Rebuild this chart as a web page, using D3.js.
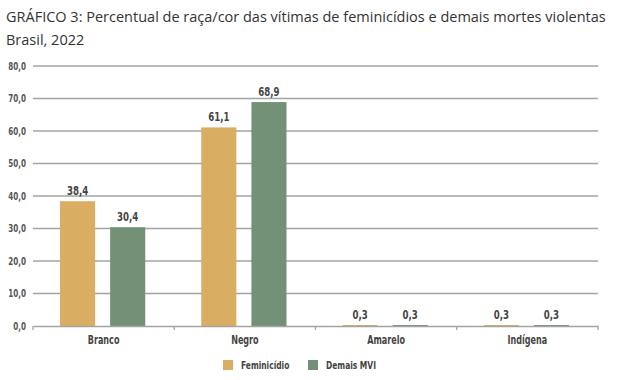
<!DOCTYPE html>
<html>
<head>
<meta charset="utf-8">
<script src="https://cdn.jsdelivr.net/npm/d3@7"></script>
<style>
  body { margin: 0; background: #fff; }
  .cond { font-family: "Liberation Sans Narrow", "DejaVu Sans Condensed", sans-serif; }
</style>
</head>
<body>
<div id="chart"></div>
<script>
// Data
var categories = ["Branco", "Negro", "Amarelo", "Indígena"];
var series = ["Feminicídio", "Demais MVI"];
var feminicidio = [38.4, 61.1, 0.3, 0.3];
var demaisMVI = [30.4, 68.9, 0.3, 0.3];
var yTicks = [0, 10, 20, 30, 40, 50, 60, 70, 80];
var colors = ["#d9ae62", "#729177"];

// squeeze text horizontally to look like a condensed face
function squeeze(sel, sx) {
    sel.attr("transform", function () {
        var t = d3.select(this);
        var xx = +t.attr("x") || 0, yy = +t.attr("y") || 0;
        t.attr("x", 0).attr("y", 0);
        return "translate(" + xx + "," + yy + ") scale(" + sx + ",1)";
    });
}

function init() {
    var w = 620, h = 380;
    var svg = d3.select("#chart").append("svg")
        .attr("width", w)
        .attr("height", h);

    // title
    svg.append("text")
        .attr("x", 6).attr("y", 22)
        .style("font-family", "'Open Sans', sans-serif")
        .style("font-size", "14.5px")
        .attr("fill", "#333")
        .text("GRÁFICO 3: Percentual de raça/cor das vítimas de feminicídios e demais mortes violentas");
    svg.append("text")
        .attr("x", 6).attr("y", 45)
        .style("font-family", "'Open Sans', sans-serif")
        .style("font-size", "14.5px")
        .attr("fill", "#333")
        .text("Brasil, 2022");

    var left = 33, right = 598, top = 66, bottom = 326;
    var fmt = function (v) { return d3.format(".1f")(v).replace(".", ","); };

    var x = d3.scaleBand().domain(categories).range([left, right]);
    var x1 = d3.scaleBand().domain(series).range([27, x.bandwidth() - 29]).paddingInner(0.3);
    var y = d3.scaleLinear().domain([0, 80]).range([bottom, top]);

    // gridlines
    svg.append("g").selectAll("line")
        .data(yTicks.slice(1))
        .enter().append("line")
        .attr("x1", left).attr("x2", right)
        .attr("y1", function (d) { return y(d); })
        .attr("y2", function (d) { return y(d); })
        .attr("stroke", "#a3a3a3")
        .attr("stroke-width", 1.3);

    // y tick labels
    svg.append("g").selectAll("text")
        .data(yTicks)
        .enter().append("text")
        .attr("class", "cond")
        .attr("x", 26)
        .attr("y", function (d) { return y(d) + 3.5; })
        .attr("text-anchor", "end")
        .style("font-size", "10px")
        .style("font-weight", "bold")
        .attr("fill", "#555")
        .text(fmt)
        .call(squeeze, 0.8);

    var data = categories.map(function (c, i) {
        return { cat: c, vals: [feminicidio[i], demaisMVI[i]] };
    });

    var groups = svg.append("g").selectAll("g")
        .data(data)
        .enter().append("g")
        .attr("transform", function (d) { return "translate(" + x(d.cat) + ",0)"; });

    groups.selectAll("rect")
        .data(function (d) { return d.vals.map(function (v, j) { return { s: series[j], v: v, j: j }; }); })
        .enter().append("rect")
        .attr("x", function (d) { return x1(d.s); })
        .attr("width", x1.bandwidth())
        .attr("y", function (d) { return y(d.v); })
        .attr("height", function (d) { return Math.max(y(0) - y(d.v), 1); })
        .attr("fill", function (d) { return colors[d.j]; });

    groups.selectAll("text.val")
        .data(function (d) { return d.vals.map(function (v, j) { return { s: series[j], v: v }; }); })
        .enter().append("text")
        .attr("class", "cond")
        .attr("x", function (d) { return x1(d.s) + x1.bandwidth() / 2; })
        .attr("y", function (d) { return y(d.v) - 6; })
        .attr("text-anchor", "middle")
        .style("font-size", "12px")
        .style("font-weight", "bold")
        .attr("fill", "#444")
        .text(function (d) { return fmt(d.v); })
        .call(squeeze, 0.8);

    // x axis
    var xAxis = d3.axisBottom(x).tickSize(0).tickPadding(10);
    var gx = svg.append("g")
        .attr("transform", "translate(0," + bottom + ")")
        .call(xAxis);
    gx.select(".domain").attr("stroke", "#a3a3a3").attr("stroke-width", 1.3);
    gx.selectAll(".tick text")
        .attr("class", "cond")
        .style("font-size", "11.5px")
        .style("font-weight", "bold")
        .attr("fill", "#444")
        .attr("dy", "0.71em")
        .attr("x", 0)
        .call(squeeze, 0.78);
    // boundary ticks between categories
    var bounds = categories.map(function (c) { return x(c); }).concat([right]);
    gx.selectAll("line.bt")
        .data(bounds)
        .enter().append("line")
        .attr("class", "bt")
        .attr("x1", function (d) { return d; })
        .attr("x2", function (d) { return d; })
        .attr("y1", 0).attr("y2", 4)
        .attr("stroke", "#a3a3a3")
        .attr("stroke-width", 1.3);

    // legend
    var legend = svg.append("g");
    var lx = [223, 308];
    series.forEach(function (s, i) {
        legend.append("rect")
            .attr("x", lx[i]).attr("y", 360)
            .attr("width", 10).attr("height", 10)
            .attr("fill", colors[i]);
        legend.append("text")
            .attr("class", "cond")
            .attr("x", lx[i] + 18).attr("y", 369)
            .style("font-size", "11px")
            .style("font-weight", "bold")
            .attr("fill", "#444")
            .text(s)
            .call(squeeze, 0.76);
    });
}
window.onload = init;
</script>
</body>
</html>
